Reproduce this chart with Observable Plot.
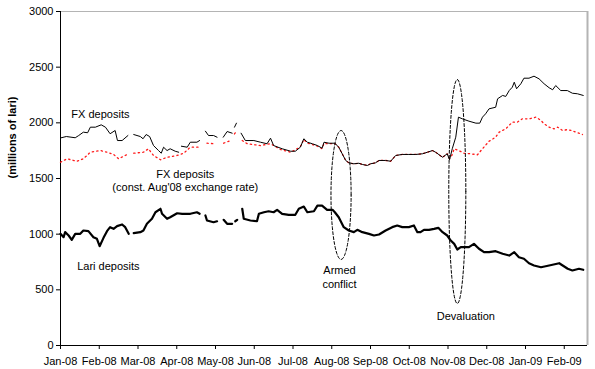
<!DOCTYPE html>
<html>
<head>
<meta charset="utf-8">
<script src="https://cdn.jsdelivr.net/npm/d3@7"></script>
<script src="https://cdn.jsdelivr.net/npm/@observablehq/plot@0.6"></script>
<style>
  html, body { margin: 0; padding: 0; background: #fff; }
  #chart svg { display: block; }
</style>
</head>
<body>
<div id="chart"></div>
<script>
// Month tick labels (x = months since Jan-08, equally spaced as in the source)
const monthLabels = ["Jan-08","Feb-08","Mar-08","Apr-08","May-08","Jun-08","Jul-08",
  "Aug-08","Sep-08","Oct-08","Nov-08","Dec-08","Jan-09","Feb-09"];
const yTicks = [0, 500, 1000, 1500, 2000, 2500, 3000];

// FX deposits (millions of lari), [month position, value]; null = gap
const fxDeposits = [
  [0.02,1866],[0.15,1877],[0.38,1866],[0.47,1886],[0.59,1916],[0.70,1911],[0.77,1961],[0.90,1961],
  [1.05,1982],[1.16,1961],[1.28,1902],[1.41,1931],[1.47,1841],[1.59,1841],[1.74,1886],[1.80,null],
  [1.89,1895],[2.06,1877],[2.13,1857],[2.21,1895],[2.30,1877],[2.40,1796],[2.53,1751],[2.60,1727],
  [2.66,1781],[2.75,1751],[2.83,1767],[2.96,1745],[3.05,1736],[3.08,null],[3.12,1790],[3.27,1781],
  [3.35,1826],[3.52,1826],[3.59,1841],[3.66,null],[3.74,1925],[3.82,1886],[3.95,1886],[4.04,1871],
  [4.12,null],[4.20,1871],[4.30,1922],[4.43,1907],[4.46,null],[4.49,1961],[4.54,1997],[4.60,null],
  [4.66,1907],[4.77,1841],[4.99,1841],[5.16,1826],[5.33,1812],[5.42,1862],[5.50,1796],[5.72,1767],
  [5.94,1745],[6.06,1745],[6.19,1781],[6.28,1857],[6.37,1826],[6.50,1812],[6.63,1796],[6.75,1772],
  [6.80,1826],[6.93,1817],[7.08,1817],[7.18,1781],[7.27,1722],[7.36,1662],[7.44,1641],[7.57,1632],
  [7.70,1637],[7.79,1626],[7.92,1617],[8.00,1632],[8.13,1641],[8.22,1662],[8.39,1662],[8.52,1655],
  [8.65,1707],[8.82,1716],[8.99,1716],[9.17,1716],[9.34,1722],[9.47,1736],[9.60,1751],[9.68,1736],
  [9.86,1691],[9.98,1722],[10.04,1668],[10.11,1767],[10.20,1871],[10.27,2051],[10.37,2036],[10.54,2015],
  [10.72,1997],[10.82,1997],[10.89,2051],[10.97,2081],[11.06,2126],[11.23,2140],[11.28,2216],[11.41,2246],
  [11.49,2237],[11.58,2290],[11.66,2320],[11.71,2365],[11.77,2306],[11.88,2351],[11.96,2401],[12.09,2401],
  [12.22,2419],[12.35,2395],[12.48,2351],[12.61,2315],[12.70,2297],[12.78,2335],[12.91,2290],[13.08,2290],
  [13.21,2266],[13.34,2261],[13.49,2246]
];

// FX deposits at constant Aug'08 exchange rate
const fxConstRate = [
  [0.00,1646],[0.17,1677],[0.42,1655],[0.59,1677],[0.77,1736],[1.03,1751],[1.20,1736],[1.37,1716],
  [1.50,1677],[1.72,1716],[1.80,null],[1.89,1727],[2.14,1736],[2.27,1767],[2.40,1707],[2.58,1668],
  [2.75,1691],[3.01,1707],[3.18,1727],[3.35,1781],[3.57,1781],[3.66,null],[3.78,1817],[4.00,1812],
  [4.12,null],[4.21,1817],[4.39,1841],[4.46,null],[4.49,1900],[4.54,1925],[4.60,null],[4.69,1841],
  [4.82,1812],[5.16,1796],[5.42,1812],[5.68,1760],[5.94,1736],[6.18,1781],[6.28,1850],[6.37,1818],
  [6.50,1805],[6.63,1790],[6.75,1768],[6.80,1815],[6.93,1812],[7.08,1815],[7.18,1781],[7.27,1722],
  [7.36,1662],[7.44,1641],[7.57,1632],[7.70,1637],[7.79,1626],[7.92,1617],[8.00,1632],[8.13,1641],
  [8.22,1662],[8.39,1662],[8.52,1655],[8.65,1707],[8.82,1716],[8.99,1716],[9.17,1716],[9.34,1722],
  [9.47,1736],[9.60,1751],[9.68,1736],[9.86,1691],[9.98,1722],[10.04,1680],[10.10,1707],[10.16,1767],
  [10.28,1751],[10.41,1727],[10.59,1722],[10.76,1713],[10.89,1767],[11.06,1835],[11.23,1871],[11.32,1916],
  [11.49,1946],[11.66,2006],[11.79,2006],[11.92,2036],[12.09,2036],[12.27,2051],[12.40,2021],[12.48,1991],
  [12.61,1961],[12.74,1946],[12.83,1961],[12.96,1931],[13.09,1940],[13.26,1922],[13.47,1895]
];

// Lari deposits
const lariDeposits = [
  [0.00,1003],[0.08,973],[0.12,1018],[0.21,988],[0.29,949],[0.38,1003],[0.51,1003],[0.59,1033],
  [0.72,1027],[0.85,973],[0.94,958],[1.01,892],[1.11,967],[1.20,1027],[1.28,1063],[1.37,1048],
  [1.46,1072],[1.59,1087],[1.67,1063],[1.76,1003],[1.82,null],[1.89,1009],[2.06,1018],[2.14,1033],
  [2.23,1093],[2.36,1138],[2.45,1197],[2.58,1228],[2.62,1183],[2.75,1138],[2.83,1152],[3.01,1188],
  [3.14,1183],[3.35,1183],[3.52,1197],[3.59,1183],[3.66,null],[3.74,1168],[3.78,1123],[3.95,1107],
  [4.04,1116],[4.12,null],[4.21,1129],[4.30,1093],[4.43,1093],[4.47,null],[4.51,1116],[4.56,1129],
  [4.62,null],[4.69,1228],[4.73,1138],[4.90,1123],[5.07,1116],[5.12,1183],[5.25,1197],[5.37,1206],
  [5.50,1197],[5.59,1219],[5.72,1183],[5.89,1174],[6.06,1174],[6.15,1228],[6.28,1248],[6.37,1197],
  [6.54,1206],[6.63,1257],[6.75,1257],[6.88,1219],[7.02,1219],[7.08,1197],[7.18,1152],[7.31,1063],
  [7.44,1033],[7.57,1018],[7.66,1039],[7.79,1018],[7.96,1003],[8.09,988],[8.22,997],[8.39,1033],
  [8.56,1063],[8.69,1078],[8.82,1063],[8.99,1063],[9.12,1078],[9.21,1018],[9.29,1018],[9.38,1039],
  [9.51,1039],[9.64,1048],[9.75,1057],[9.86,1018],[9.98,988],[10.07,943],[10.16,913],[10.24,862],
  [10.33,883],[10.46,883],[10.54,883],[10.67,913],[10.80,869],[10.93,838],[11.06,838],[11.23,847],
  [11.41,824],[11.58,808],[11.71,838],[11.83,793],[11.96,779],[12.09,739],[12.22,719],[12.40,703],
  [12.61,719],[12.87,739],[12.96,719],[13.09,689],[13.21,674],[13.38,689],[13.49,680]
];

// Event annotations: centre (month position, value) and half-extent
const eventNames = ["Armed conflict", "Devaluation"];
const eventCentres = [[7.24, 1352], [10.24, 1383]];
const eventRadii = [[0.26, 579], [0.22, 1006]];

function ellipse(i) {
  const [ct, cv] = eventCentres[i], [rt, rv] = eventRadii[i];
  return d3.range(0, 73).map(k => {
    const a = (k / 72) * 2 * Math.PI;
    return {t: ct + rt * Math.cos(a), v: cv + rv * Math.sin(a)};
  });
}

const toRows = arr => arr.map(([t, v]) => ({t, v}));
const font = "'Liberation Sans', Arial, sans-serif";

const chart = Plot.plot({
  width: 595,
  height: 369,
  marginLeft: 60,
  marginRight: 8,
  marginTop: 11,
  marginBottom: 24,
  style: {fontFamily: font, fontSize: "11px", color: "#000", background: "#fff"},
  x: {type: "linear", domain: [0, 13.6]},
  y: {domain: [0, 3000]},
  marks: [
    Plot.ruleY([3000], {stroke: "#b4b4b4", strokeWidth: 1}),
    Plot.ruleX([13.6], {stroke: "#b4b4b4", strokeWidth: 2}),
    Plot.axisY({ticks: yTicks, tickSize: 4, tickPadding: 3, tickFormat: d => String(d), label: null, fontSize: 11}),
    Plot.axisX({ticks: d3.range(0, monthLabels.length), tickSize: 4, tickPadding: 8,
      tickFormat: i => monthLabels[i], label: null, fontSize: 11}),
    Plot.ruleX([0], {stroke: "#000"}),
    Plot.ruleY([0], {stroke: "#000"}),
    Plot.text(["(millions of lari)"], {frameAnchor: "left", dx: -48, rotate: -90,
      fontWeight: "bold", fontSize: 11, fill: "#000"}),
    // series
    Plot.line(toRows(fxConstRate), {x: "t", y: "v", stroke: "#ff1a1a", strokeWidth: 1.3,
      strokeDasharray: "1.3,3.2", curve: "linear"}),
    Plot.line(toRows(fxDeposits), {x: "t", y: "v", stroke: "#000", strokeWidth: 1, curve: "linear"}),
    Plot.line(toRows(lariDeposits), {x: "t", y: "v", stroke: "#000", strokeWidth: 2.2, curve: "linear"}),
    // event ellipses
    Plot.line(ellipse(0), {x: "t", y: "v", stroke: "#000", strokeWidth: 1, strokeDasharray: "3,2"}),
    Plot.line(ellipse(1), {x: "t", y: "v", stroke: "#000", strokeWidth: 1, strokeDasharray: "3,2"}),
    // labels
    Plot.text(["FX deposits"], {x: 0.28, y: 2075, textAnchor: "start", fill: "#000", fontSize: 11}),
    Plot.text(["FX deposits"], {x: 3.22, y: 1536, textAnchor: "middle", fill: "#000", fontSize: 11}),
    Plot.text(["(const. Aug'08 exchange rate)"], {x: 3.22, y: 1419, textAnchor: "middle", fill: "#000", fontSize: 11}),
    Plot.text(["Lari deposits"], {x: 0.43, y: 710, textAnchor: "start", fill: "#000", fontSize: 11}),
    Plot.text(["Armed"], {x: 7.2, y: 674, textAnchor: "middle", fill: "#000", fontSize: 11}),
    Plot.text(["conflict"], {x: 7.2, y: 548, textAnchor: "middle", fill: "#000", fontSize: 11}),
    Plot.text([eventNames[1]], {x: 10.46, y: 260, textAnchor: "middle", fill: "#000", fontSize: 11})
  ]
});
document.getElementById("chart").appendChild(chart);
</script>
</body>
</html>
